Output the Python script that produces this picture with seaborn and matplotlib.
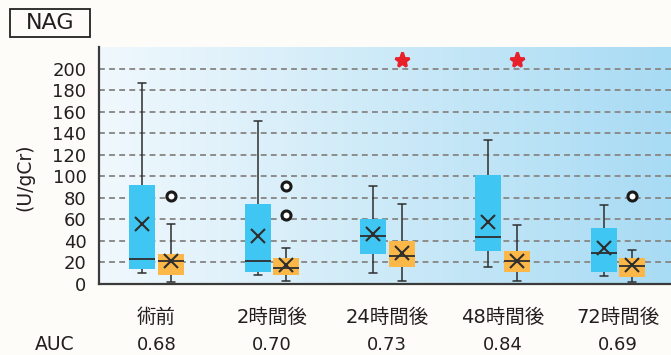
import numpy as np
import pandas as pd
import matplotlib
matplotlib.use("Agg")
import matplotlib.pyplot as plt
import seaborn as sns
from matplotlib.colors import LinearSegmentedColormap
from matplotlib.patches import Rectangle

groups = ['術前', '2時間後', '24時間後', '48時間後', '72時間後']
auc = ['0.68', '0.70', '0.73', '0.84', '0.69']
series = ['AKI群', '非AKI群']

# five-number summaries (U/gCr)
aki_lo = [10, 8, 10, 16, 7]
aki_q1 = [14, 11, 28, 31, 11]
aki_med = [23.5, 21, 45, 44, 28.5]
aki_q3 = [92, 74, 60, 101, 52]
aki_hi = [187, 151, 91, 134, 73]
aki_mean = [56, 45, 46, 58, 33]
aki_fliers = [[], [], [], [], []]

non_lo = [2, 3, 3, 3, 2]
non_q1 = [8, 8, 15.5, 11, 6.5]
non_med = [21, 15, 26, 21, 17]
non_q3 = [28, 24, 39.5, 31, 24]
non_hi = [56, 33, 74, 55, 32]
non_mean = [21, 18, 29, 21, 17.5]
non_fliers = [[82], [64, 91], [], [], [82]]

# significance stars (non-AKI group)
star_groups = ['24時間後', '48時間後']
star_level = 208

colors = {'AKI群': '#3fc6f2', '非AKI群': '#fbb747'}
dark = '#2e2e2e'
txt = '#231f20'

sns.set_theme(style='white')
plt.rcParams['font.family'] = ['DejaVu Sans', 'Noto Sans CJK JP']

# expand each summary into a sample list that gives the same box statistics
rows = []
stats = {
    'AKI群': (aki_lo, aki_q1, aki_med, aki_q3, aki_hi, aki_fliers),
    '非AKI群': (non_lo, non_q1, non_med, non_q3, non_hi, non_fliers),
}
for s, (lo, q1, med, q3, hi, fl) in stats.items():
    for i, g in enumerate(groups):
        m = len(fl[i]) + 1
        vals = [lo[i]] + [q1[i]] * m + [med[i]] * m + [q3[i]] * m + [hi[i]] + fl[i]
        rows += [(g, s, v) for v in vals]
df = pd.DataFrame(rows, columns=['time', 'group', 'value'])

means = pd.DataFrame({
    'time': groups * 2,
    'group': [series[0]] * 5 + [series[1]] * 5,
    'value': aki_mean + non_mean,
})
stars = pd.DataFrame({'time': star_groups, 'group': series[1],
                      'value': [star_level] * len(star_groups)})

fig = plt.figure(figsize=(6.71, 3.55), dpi=100)
fig.patch.set_facecolor('#fdfcf8')
ax = fig.add_axes([99 / 671, 1 - 284 / 355, 572 / 671, 237 / 355])

sns.boxplot(data=df, x='time', y='value', hue='group', order=groups,
            hue_order=series, palette=colors, saturation=1, width=0.5, gap=0.1,
            linecolor=dark, linewidth=1.1, whis=1.5, legend=False, ax=ax,
            boxprops=dict(edgecolor='none', zorder=2),
            medianprops=dict(color=dark, linewidth=1.3),
            flierprops=dict(marker='o', markerfacecolor='white',
                            markeredgecolor='#1a1a1a', markeredgewidth=2.2,
                            markersize=6.5))

sns.pointplot(data=means, x='time', y='value', hue='group', order=groups,
              hue_order=series, palette={s: dark for s in series}, dodge=0.25,
              errorbar=None, marker='x', linestyle='none', markersize=9.5,
              markeredgewidth=1.5, legend=False, ax=ax, zorder=5)

sns.pointplot(data=stars, x='time', y='value', hue='group', order=groups,
              hue_order=series, palette={s: '#e8202a' for s in series}, dodge=0.25,
              errorbar=None, marker='*', linestyle='none', markersize=11,
              legend=False, ax=ax, zorder=5)

# shrink whisker caps
for ln in ax.lines:
    x = np.asarray(ln.get_xdata(), dtype=float)
    y = np.asarray(ln.get_ydata(), dtype=float)
    if len(x) == 2 and y[0] == y[1] and abs(abs(x[1] - x[0]) - 0.1125) < 0.01:
        c = x.mean()
        ln.set_xdata([c - 0.035, c + 0.035])

grad = LinearSegmentedColormap.from_list('bg', ['#f0f8fd', '#cdeaf8', '#a8dbf4'])
ax.imshow(np.linspace(0, 1, 256)[None, :], extent=[0, 1, 0, 1], transform=ax.transAxes,
          cmap=grad, aspect='auto', zorder=0)

ax.set_xlim(-0.5, 4.46)
ax.set_ylim(0, 220)
ax.set_yticks(range(0, 201, 20))
ax.set_axisbelow(True)
ax.yaxis.grid(True, linestyle=(0, (3, 2.2)), color='#8c8c8c', linewidth=1.4)
ax.xaxis.grid(False)
for sp in ['top', 'right']:
    ax.spines[sp].set_visible(False)
for sp in ['left', 'bottom']:
    ax.spines[sp].set_color('#3a3a3a')
    ax.spines[sp].set_linewidth(1.6)
    ax.spines[sp].set_zorder(6)

ax.set_xlabel('')
ax.set_ylabel('')
ax.tick_params(axis='both', length=0, labelcolor=txt)
ax.tick_params(axis='y', pad=9, labelsize=13)
ax.tick_params(axis='x', pad=17, labelsize=14)

for i, a in enumerate(auc):
    ax.text(i, -0.257, a, transform=ax.get_xaxis_transform(), ha='center',
            va='center', fontsize=13, color=txt)
fig.text(55 / 671, 1 - 345 / 355, 'AUC', ha='center', va='center',
         fontsize=13.5, color=txt)
fig.text(25 / 671, 1 - 177 / 355, '(U/gCr)', rotation=90, ha='center',
         va='center', fontsize=13.5, color=txt)

fig.patches.append(Rectangle((9.5 / 671, 1 - 37 / 355), 81 / 671, 28.5 / 355,
                             transform=fig.transFigure, fill=False,
                             edgecolor='#222222', linewidth=1.3))
fig.text(50 / 671, 1 - 23 / 355, 'NAG', ha='center', va='center',
         fontsize=16, color=txt)

fig.savefig('out.png', dpi=100, facecolor=fig.get_facecolor())
